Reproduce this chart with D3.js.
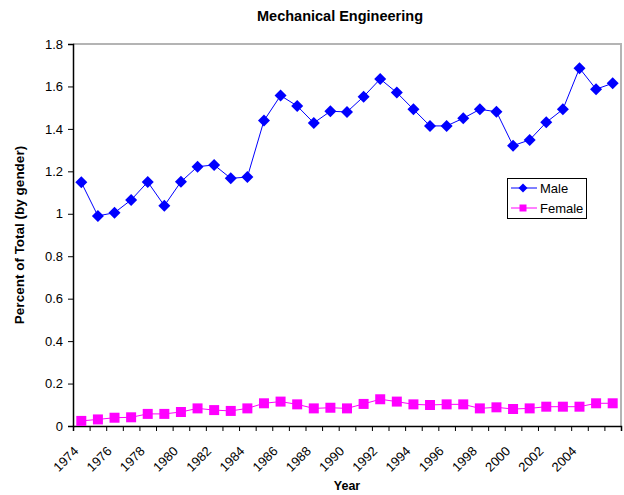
<!DOCTYPE html>
<html>
<head>
<meta charset="utf-8">
<script src="https://cdn.jsdelivr.net/npm/d3@7"></script>
<style>
  body { margin: 0; background: #fff; }
  text { font-family: "Liberation Sans", Arial, sans-serif; fill: #000; }
</style>
</head>
<body>
<div id="chart"></div>
<script>
const years = d3.range(1974, 2007);
const yearLabels = d3.range(1974, 2006, 2);
const male = [1.148, 0.990, 1.005, 1.065, 1.150, 1.038, 1.151, 1.222, 1.230, 1.167, 1.173,
  1.439, 1.557, 1.508, 1.428, 1.483, 1.480, 1.552, 1.635, 1.571, 1.492, 1.414, 1.414,
  1.450, 1.492, 1.481, 1.321, 1.348, 1.431, 1.492, 1.686, 1.587, 1.615];
const female = [0.024, 0.031, 0.039, 0.041, 0.057, 0.057, 0.066, 0.083, 0.075, 0.071, 0.083,
  0.107, 0.115, 0.102, 0.083, 0.086, 0.083, 0.104, 0.126, 0.115, 0.102, 0.099, 0.102,
  0.102, 0.083, 0.088, 0.080, 0.083, 0.091, 0.091, 0.091, 0.107, 0.107];
const yTicks = [0, 0.2, 0.4, 0.6, 0.8, 1, 1.2, 1.4, 1.6, 1.8];

const width = 624;
const height = 495;
const plotLeft = 73, plotRight = 621, plotTop = 44, plotBottom = 426;

const svg = d3.select('#chart').append('svg')
  .attr('width', width)
  .attr('height', height);

const x = d3.scaleLinear()
  .domain([years[0] - 0.5, years[years.length - 1] + 0.5])
  .range([plotLeft, plotRight]);

const y = d3.scaleLinear()
  .domain([0, 1.8])
  .range([plotBottom, plotTop]);

// plot area border (gray)
svg.append('path')
  .attr('d', `M${plotLeft},${plotTop}H${plotRight}V${plotBottom}`)
  .attr('fill', 'none')
  .attr('stroke', '#b4b4b4')
  .attr('stroke-width', 2);

// y axis
const yAxis = d3.axisLeft(y)
  .tickValues(yTicks)
  .tickSize(5)
  .tickFormat(d3.format('~g'));

const gy = svg.append('g')
  .attr('transform', `translate(${plotLeft},0)`)
  .call(yAxis);
gy.select('.domain').attr('stroke', '#000').attr('stroke-width', 1.5);
gy.selectAll('.tick line').attr('stroke', '#000');
gy.selectAll('.tick text')
  .attr('x', -10)
  .style('font-family', '"Liberation Sans", Arial, sans-serif')
  .style('font-size', '13px')
  .attr('fill', '#222');

// x axis: ticks between categories
const xAxis = d3.axisBottom(x)
  .tickValues(d3.range(years[0] - 0.5, years[years.length - 1] + 1, 1))
  .tickSize(5)
  .tickFormat('');

const gx = svg.append('g')
  .attr('transform', `translate(0,${plotBottom})`)
  .call(xAxis);
gx.select('.domain').attr('stroke', '#000').attr('stroke-width', 1.5);
gx.selectAll('.tick line').attr('stroke', '#000');

svg.append('g').selectAll('text')
  .data(yearLabels)
  .enter()
  .append('text')
  .attr('transform', d => `translate(${x(d) - 2},${plotBottom + 26}) rotate(-45)`)
  .attr('text-anchor', 'end')
  .style('font-size', '13px')
  .attr('fill', '#222')
  .text(d => d);

// titles
svg.append('text')
  .attr('x', 340)
  .attr('y', 21)
  .attr('text-anchor', 'middle')
  .style('font-size', '14.5px')
  .style('font-weight', 'bold')
  .text('Mechanical Engineering');

svg.append('text')
  .attr('x', 347)
  .attr('y', 490)
  .attr('text-anchor', 'middle')
  .style('font-size', '12.5px')
  .style('font-weight', 'bold')
  .text('Year');

svg.append('text')
  .attr('transform', 'translate(24,235) rotate(-90)')
  .attr('text-anchor', 'middle')
  .style('font-size', '13.5px')
  .style('font-weight', 'bold')
  .text('Percent of Total (by gender)');

// markers
function diamond(r) {
  return `M0,${-r}L${r},0L0,${r}L${-r},0Z`;
}
function square(r) {
  return `M${-r},${-r}H${r}V${r}H${-r}Z`;
}

const series = [
  { name: 'Male', values: male, color: '#0000ff', marker: diamond, size: 6, legendSize: 4.5 },
  { name: 'Female', values: female, color: '#ff00ff', marker: square, size: 5, legendSize: 3.5 }
];

const line = d3.line()
  .x((d, i) => x(years[i]))
  .y(d => y(d));

series.forEach((s) => {
  const g = svg.append('g').attr('class', 'series');
  g.append('path')
    .attr('d', line(s.values))
    .attr('fill', 'none')
    .attr('stroke', s.color)
    .attr('stroke-width', 1);
  g.selectAll('path.marker')
    .data(s.values)
    .enter()
    .append('path')
    .attr('class', 'marker')
    .attr('d', s.marker(s.size))
    .attr('transform', (d, i) => `translate(${x(years[i])},${y(d)})`)
    .attr('fill', s.color);
});

// legend
const legend = svg.append('g')
  .attr('transform', 'translate(507,178)');

legend.append('rect')
  .attr('x', 0.5)
  .attr('y', 0.5)
  .attr('width', 79)
  .attr('height', 40)
  .attr('fill', '#fff')
  .attr('stroke', '#000');

const legendItem = legend.selectAll('g.item')
  .data(series)
  .enter()
  .append('g')
  .attr('class', 'item')
  .attr('transform', (d, i) => `translate(0,${10 + i * 20})`);

legendItem.append('line')
  .attr('x1', 4)
  .attr('x2', 30)
  .attr('stroke', d => d.color);

legendItem.append('path')
  .attr('d', d => d.marker(d.legendSize))
  .attr('transform', 'translate(16,0)')
  .attr('fill', d => d.color);

legendItem.append('text')
  .attr('x', 33)
  .attr('y', 5)
  .style('font-size', '13px')
  .text(d => d.name);
</script>
</body>
</html>
